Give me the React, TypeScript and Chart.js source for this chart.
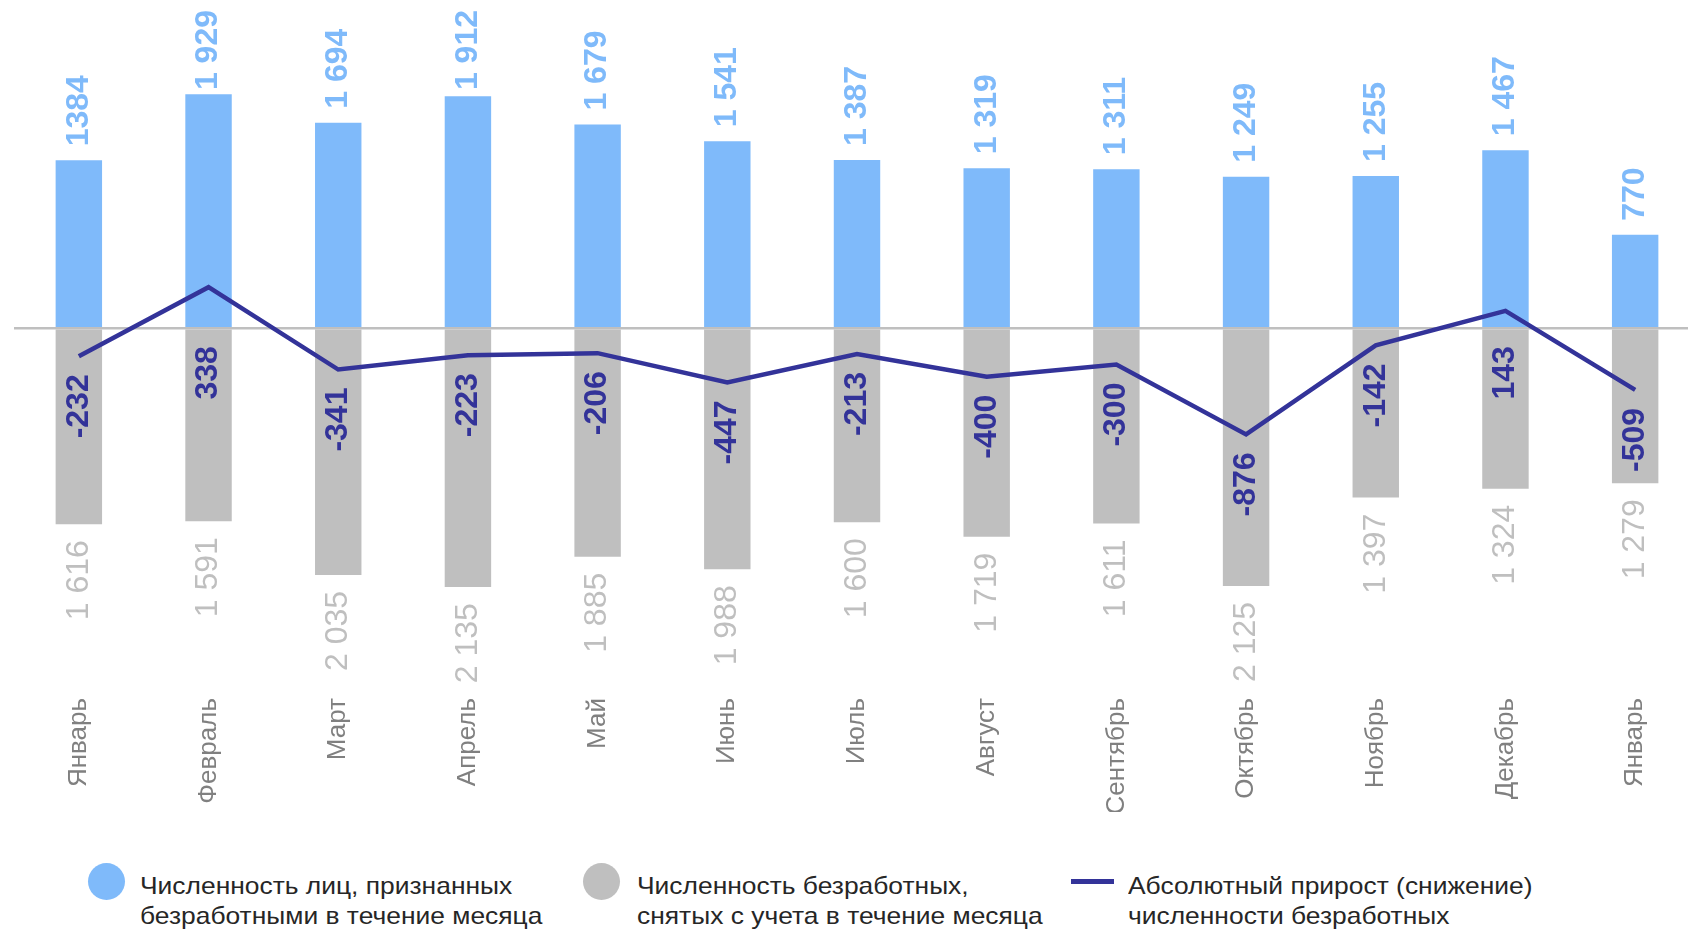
import React, { useEffect, useRef } from 'react';
import { Chart, registerables } from 'chart.js';

Chart.register(...registerables);

const months = ['Январь', 'Февраль', 'Март', 'Апрель', 'Май', 'Июнь', 'Июль', 'Август', 'Сентябрь', 'Октябрь', 'Ноябрь', 'Декабрь', 'Январь'];
const recognized = [1384, 1929, 1694, 1912, 1679, 1541, 1387, 1319, 1311, 1249, 1255, 1467, 770];
const recognizedText = ['1384', '1 929', '1 694', '1 912', '1 679', '1 541', '1 387', '1 319', '1 311', '1 249', '1 255', '1 467', '770'];
const removed = [1616, 1591, 2035, 2135, 1885, 1988, 1600, 1719, 1611, 2125, 1397, 1324, 1279];
const change = [-232, 338, -341, -223, -206, -447, -213, -400, -300, -876, -142, 143, -509];

const legendItems = [
  { kind: 'circle', color: '#7FBAFA', lines: ['Численность лиц, признанных', 'безработными в течение месяца'] },
  { kind: 'circle', color: '#BFBFBF', lines: ['Численность безработных,', 'снятых с учета в течение месяца'] },
  { kind: 'line', color: '#333399', lines: ['Абсолютный прирост (снижение)', 'численности безработных'] },
];

const BLUE = '#7FBAFA';
const GRAY = '#BFBFBF';
const NAVY = '#333399';
const FONT = '"Liberation Sans", Arial, sans-serif';

const fmt = (v: number) => {
  const s = String(Math.abs(v));
  return s.replace(/\B(?=(\d{3})+(?!\d))/g, ' ');
};

const labelPlugin = {
  id: 'valueLabels',
  afterDatasetsDraw(chart: any) {
    const ctx = chart.ctx;
    const zeroY = chart.scales.y.getPixelForValue(0);
    chart.data.datasets.forEach((ds: any, di: number) => {
      const meta = chart.getDatasetMeta(di);
      meta.data.forEach((el: any, i: number) => {
        let text = '';
        let y = 0;
        let align: CanvasTextAlign = 'left';
        let color = '';
        let font = '';
        if (ds.key === 'recognized') {
          text = recognizedText[i];
          color = BLUE;
          font = `bold 32px ${FONT}`;
          ctx.font = font;
          const w = ctx.measureText(text).width;
          y = el.y - 14;
          if (y - w < 10) y = 10 + w;
          align = 'left';
        } else if (ds.key === 'removed') {
          text = fmt(removed[i]);
          y = el.y + 16;
          align = 'right';
          color = GRAY;
          font = `32px ${FONT}`;
        } else {
          text = String(change[i]);
          y = Math.max(el.y, zeroY) + 18;
          align = 'right';
          color = NAVY;
          font = `bold 32px ${FONT}`;
        }
        ctx.save();
        ctx.translate(el.x, y);
        ctx.rotate(-Math.PI / 2);
        ctx.textAlign = align;
        ctx.textBaseline = 'middle';
        ctx.fillStyle = color;
        ctx.font = font;
        ctx.fillText(text, 0, 0);
        ctx.restore();
      });
    });
  },
};

function ChartView() {
  const ref = useRef<HTMLCanvasElement | null>(null);
  useEffect(() => {
    if (!ref.current) return;
    const chart = new Chart(ref.current, {
      type: 'bar',
      data: {
        labels: months,
        datasets: [
          {
            key: 'change',
            type: 'line',
            label: 'Абсолютный прирост (снижение) численности безработных',
            data: change,
            borderColor: NAVY,
            borderWidth: 4.5,
            pointRadius: 0,
            tension: 0,
            order: 0,
            stack: 'line',
          } as any,
          {
            key: 'recognized',
            label: 'Численность лиц, признанных безработными в течение месяца',
            data: recognized,
            backgroundColor: BLUE,
            categoryPercentage: 1,
            barPercentage: 0.358,
            order: 1,
            stack: 'bars',
          } as any,
          {
            key: 'removed',
            label: 'Численность безработных, снятых с учета в течение месяца',
            data: removed.map((v) => -v),
            backgroundColor: GRAY,
            categoryPercentage: 1,
            barPercentage: 0.358,
            order: 2,
            stack: 'bars',
          } as any,
        ],
      },
      options: {
        animation: false,
        responsive: true,
        maintainAspectRatio: false,
        layout: { padding: { left: 14, right: 0, top: 25, bottom: 0 } },
        plugins: {
          legend: { display: false },
          tooltip: { enabled: false },
        },
        scales: {
          x: {
            stacked: true,
            offset: true,
            grid: { display: false, drawTicks: false },
            border: { display: false },
            ticks: {
              autoSkip: false,
              minRotation: 90,
              maxRotation: 90,
              padding: 6,
              color: '#808080',
              font: { family: FONT, size: 26 },
            },
            afterFit: (scale: any) => {
              scale.height = 120;
            },
          },
          y: {
            stacked: true,
            min: -3000,
            max: 2500,
            ticks: { display: false, stepSize: 500 },
            border: { display: false },
            grid: {
              drawTicks: false,
              lineWidth: 2.5,
              color: (c: any) => (c.tick && c.tick.value === 0 ? GRAY : 'rgba(0,0,0,0)'),
            },
            afterFit: (scale: any) => {
              scale.width = 0;
            },
          },
        },
      },
      plugins: [labelPlugin],
    });
    return () => chart.destroy();
  }, []);
  return (
    <div style={{ position: 'absolute', left: 0, top: 0, width: 1700, height: 812 }}>
      <canvas ref={ref} />
    </div>
  );
}

export default function App() {
  const legendLeft = [88, 583, 1071];
  const textLeft = [140, 637, 1128];
  return (
    <div style={{ position: 'fixed', left: 0, top: 0, width: 1688, height: 930, overflow: 'hidden', background: '#fff' }}>
      <ChartView />
      {legendItems.map((it, i) => (
        <React.Fragment key={i}>
          {it.kind === 'circle' ? (
            <div
              style={{
                position: 'absolute',
                left: legendLeft[i],
                top: 863,
                width: 37,
                height: 37,
                borderRadius: '50%',
                background: it.color,
              }}
            />
          ) : (
            <div
              style={{
                position: 'absolute',
                left: legendLeft[i],
                top: 879,
                width: 43,
                height: 5,
                background: it.color,
              }}
            />
          )}
          <div
            style={{
              position: 'absolute',
              left: textLeft[i],
              top: 871,
              fontFamily: FONT,
              fontSize: 24,
              lineHeight: '30px',
              color: '#262626',
              whiteSpace: 'nowrap',
              transform: 'scaleX(1.1)',
              transformOrigin: 'left top',
            }}
          >
            {it.lines.map((l, j) => (
              <div key={j}>{l}</div>
            ))}
          </div>
        </React.Fragment>
      ))}
    </div>
  );
}
